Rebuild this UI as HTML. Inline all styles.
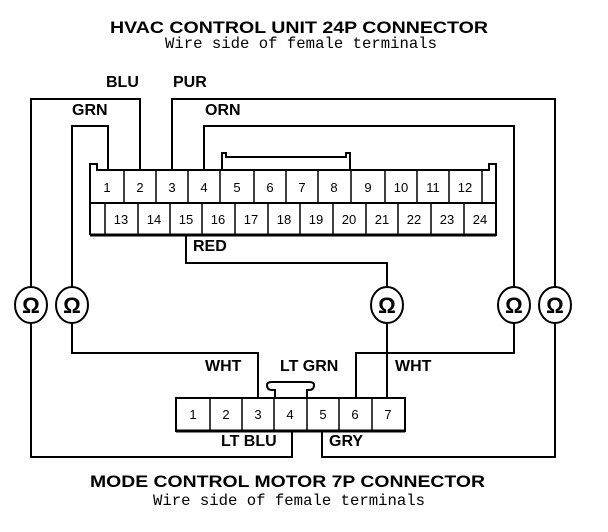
<!DOCTYPE html>
<html><head><style>
html,body{margin:0;padding:0;background:#fff;}
svg{display:block;}
.t{font-family:"Liberation Sans",sans-serif;font-weight:bold;font-size:17px;}
.m{font-family:"Liberation Mono",monospace;font-size:16px;}
.l{font-family:"Liberation Sans",sans-serif;font-weight:bold;font-size:16px;}
.n{font-family:"Liberation Sans",sans-serif;font-size:13px;text-anchor:middle;}
.o{font-family:"Liberation Sans",sans-serif;font-weight:bold;font-size:22px;text-anchor:middle;}
</style></head><body>
<svg width="608" height="532" viewBox="0 0 608 532" xmlns="http://www.w3.org/2000/svg">
<rect width="608" height="532" fill="#fff"/>
<text class="t" x="110" y="33" textLength="378" lengthAdjust="spacingAndGlyphs">HVAC CONTROL UNIT 24P CONNECTOR</text>
<text class="m" x="165" y="48" textLength="272" lengthAdjust="spacingAndGlyphs">Wire side of female terminals</text>
<text class="t" x="90" y="487" textLength="395" lengthAdjust="spacingAndGlyphs">MODE CONTROL MOTOR 7P CONNECTOR</text>
<text class="m" x="153" y="505" textLength="272" lengthAdjust="spacingAndGlyphs">Wire side of female terminals</text>

<g fill="none" stroke="#000" stroke-width="2">
<polyline points="31,288 31,99 140,99 140,170"/>
<polyline points="72,288 72,126 108,126 108,170"/>
<polyline points="555,288 555,99 172,99 172,170"/>
<polyline points="514,288 514,126 204,126 204,170"/>
<polyline points="186,235 186,263 387,263 387,288"/>
<polyline points="72,322 72,353 258,353 258,398"/>
<polyline points="514,322 514,353 356,353 356,398"/>
<polyline points="387,322 387,398"/>
<polyline points="31,322 31,457 292,457 292,431"/>
<polyline points="555,322 555,457 322,457 322,431"/>
<polyline points="90,235 90,164 97,164 97,170 489,170 489,164 496,164 496,235 90,235"/>
<line x1="90" y1="203" x2="496" y2="203"/>
<line x1="90" y1="235" x2="496" y2="235" stroke-width="3"/>
<polyline points="222,170 222,153 226,153 226,157 346,157 346,153 350,153 350,170"/>
<rect x="176" y="398" width="229" height="33"/>
<line x1="176" y1="431" x2="405" y2="431" stroke-width="3"/>
<path d="M275,398 V390 H272 Q267,390 267,385 Q267,382 272,382 H309 Q314,382 314,385 Q314,390 309,390 H307 V398"/>
</g>
<g stroke="#000" stroke-width="1.5">
<line x1="124" y1="170" x2="124" y2="203"/><line x1="156" y1="170" x2="156" y2="203"/>
<line x1="188" y1="170" x2="188" y2="203"/><line x1="220" y1="170" x2="220" y2="203"/>
<line x1="254" y1="170" x2="254" y2="203"/><line x1="286" y1="170" x2="286" y2="203"/>
<line x1="318" y1="170" x2="318" y2="203"/><line x1="351" y1="170" x2="351" y2="203"/>
<line x1="385" y1="170" x2="385" y2="203"/><line x1="417" y1="170" x2="417" y2="203"/>
<line x1="449" y1="170" x2="449" y2="203"/><line x1="482" y1="170" x2="482" y2="203"/>
<line x1="105" y1="203" x2="105" y2="235"/><line x1="138" y1="203" x2="138" y2="235"/>
<line x1="170" y1="203" x2="170" y2="235"/><line x1="202" y1="203" x2="202" y2="235"/>
<line x1="235" y1="203" x2="235" y2="235"/><line x1="268" y1="203" x2="268" y2="235"/>
<line x1="300" y1="203" x2="300" y2="235"/><line x1="333" y1="203" x2="333" y2="235"/>
<line x1="366" y1="203" x2="366" y2="235"/><line x1="398" y1="203" x2="398" y2="235"/>
<line x1="431" y1="203" x2="431" y2="235"/><line x1="464" y1="203" x2="464" y2="235"/>
<line x1="210" y1="398" x2="210" y2="431"/><line x1="242" y1="398" x2="242" y2="431"/>
<line x1="274" y1="398" x2="274" y2="431"/><line x1="307" y1="398" x2="307" y2="431"/>
<line x1="339" y1="398" x2="339" y2="431"/><line x1="372" y1="398" x2="372" y2="431"/>
</g>
<g class="n">
<text x="107" y="192">1</text><text x="140" y="192">2</text><text x="172" y="192">3</text><text x="204" y="192">4</text>
<text x="237" y="192">5</text><text x="270" y="192">6</text><text x="302" y="192">7</text><text x="334" y="192">8</text>
<text x="368" y="192">9</text><text x="401" y="192">10</text><text x="433" y="192">11</text><text x="465" y="192">12</text>
<text x="121" y="224">13</text><text x="154" y="224">14</text><text x="186" y="224">15</text><text x="218" y="224">16</text>
<text x="251" y="224">17</text><text x="284" y="224">18</text><text x="316" y="224">19</text><text x="349" y="224">20</text>
<text x="382" y="224">21</text><text x="414" y="224">22</text><text x="447" y="224">23</text><text x="480" y="224">24</text>
<text x="193" y="419">1</text><text x="226" y="419">2</text><text x="258" y="419">3</text><text x="290" y="419">4</text>
<text x="323" y="419">5</text><text x="355" y="419">6</text><text x="388" y="419">7</text>
</g>
<g class="l">
<text x="106" y="87">BLU</text><text x="173" y="87">PUR</text>
<text x="72" y="115">GRN</text><text x="205" y="115">ORN</text>
<text x="193" y="251">RED</text>
<text x="205" y="371">WHT</text><text x="280" y="371">LT GRN</text><text x="395" y="371">WHT</text>
<text x="221" y="446">LT BLU</text><text x="329" y="446">GRY</text>
</g>
<g fill="#fff" stroke="#000" stroke-width="2">
<ellipse cx="31" cy="305" rx="16" ry="18"/><ellipse cx="72" cy="305" rx="16" ry="18"/>
<ellipse cx="387" cy="305" rx="16" ry="18"/><ellipse cx="514" cy="305" rx="16" ry="18"/>
<ellipse cx="555" cy="305" rx="16" ry="18"/>
</g>
<g class="o">
<text x="31" y="313">Ω</text><text x="72" y="313">Ω</text><text x="387" y="313">Ω</text>
<text x="514" y="313">Ω</text><text x="555" y="313">Ω</text>
</g>
</svg>
</body></html>
